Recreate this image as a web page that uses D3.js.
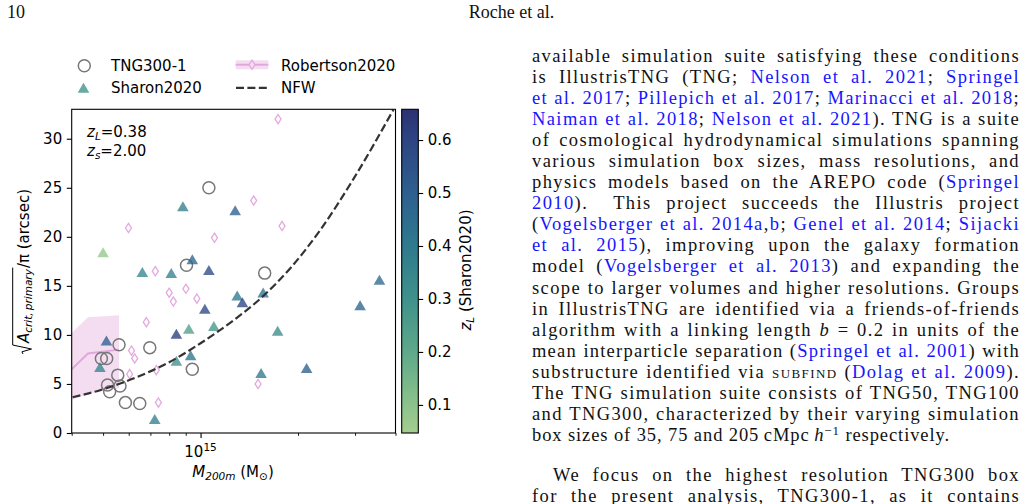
<!DOCTYPE html>
<html>
<head>
<meta charset="utf-8">
<script src="https://cdn.jsdelivr.net/npm/d3@7"></script>
<style>
  body { margin: 0; background: #fff; width: 1027px; height: 504px; overflow: hidden; position: relative; }
  svg { position: absolute; left: 0; top: 0; }
  .page { position: absolute; font-family: "Liberation Serif", "Times New Roman", serif; font-size: 18.5px; color: #111; }
  .col { left: 532px; width: 488px; line-height: 21.1px; }
  .ln { white-space: nowrap; text-align: justify; text-align-last: justify; }
  .ln.last { text-align-last: left; }
  .cite { color: #1515ff; }
  .sc { font-variant: small-caps; }
  sup { font-size: 70%; vertical-align: 0.5em; line-height: 0; }
  .probe { position: absolute; visibility: hidden; white-space: nowrap; }
</style>
</head>
<body>
<div id="chart"></div>
<script>
// ---- data ----
// TNG300-1 haloes (open circles)
var tngMass  = [1.061e15, 0.905e15, 1.578e15, 0.560e15, 0.494e15, 0.513e15, 0.697e15, 0.943e15, 0.555e15, 0.516e15, 0.564e15, 0.524e15, 0.586e15, 0.649e15];
var tngTheta = [25.0, 17.1, 16.3, 9.0, 7.6, 7.6, 8.7, 6.5, 5.9, 4.9, 4.8, 4.2, 3.1, 3.0];

// Sharon2020 clusters (triangles, coloured by z_L)
var sharonMass  = [0.500e15, 0.882e15, 1.279e15, 0.943e15, 1.061e15, 0.661e15, 0.812e15, 1.031e15, 1.298e15, 1.347e15, 1.561e15, 1.099e15, 0.920e15, 0.842e15, 0.512e15, 0.489e15, 0.842e15, 0.932e15, 0.722e15, 3.568e15, 3.110e15, 1.730e15, 1.538e15, 2.126e15];
var sharonTheta = [18.4, 23.1, 22.7, 17.7, 16.6, 16.4, 16.3, 12.65, 14.0, 13.3, 14.3, 10.9, 10.6, 10.1, 9.4, 6.7, 7.35, 7.9, 1.4, 15.6, 13.0, 10.4, 6.1, 6.6];
var sharonZ     = [0.08, 0.38, 0.50, 0.48, 0.58, 0.35, 0.37, 0.58, 0.40, 0.60, 0.42, 0.28, 0.24, 0.62, 0.50, 0.36, 0.30, 0.42, 0.38, 0.46, 0.48, 0.32, 0.40, 0.50];

// Robertson2020 (thin diamonds + median line with band)
var robMass  = [0.599e15, 1.104e15, 1.735e15, 1.459e15, 1.785e15, 0.725e15, 0.800e15, 0.824e15, 0.901e15, 0.974e15, 0.680e15, 0.612e15, 0.626e15, 0.604e15, 0.730e15, 0.741e15, 1.505e15];
var robTheta = [20.9, 19.9, 32.0, 23.7, 21.1, 16.5, 14.3, 13.4, 14.7, 13.7, 11.3, 8.4, 7.6, 6.0, 6.4, 3.1, 5.0];
var robBinMass = [0.361e15, 0.449e15, 0.560e15];
var robMedian  = [5.1, 8.1, 8.5];
var robLow     = [2.8, 4.0, 4.6];
var robHigh    = [8.8, 11.8, 12.0];

// NFW expectation (dashed)
var nfwMass  = [0.4025e15, 0.492e15, 0.623e15, 0.789e15, 1.0e15, 1.266e15, 1.53e15, 1.893e15, 2.343e15, 2.967e15, 3.941e15];
var nfwTheta = [3.64, 4.39, 5.58, 7.11, 9.15, 11.5, 13.7, 16.8, 20.7, 25.9, 32.96];

var yTicks = [0, 5, 10, 15, 20, 25, 30];
var xMinorTicks = [4e14, 5e14, 6e14, 7e14, 8e14, 9e14, 2e15, 3e15, 4e15];
var cbTicks = [0.1, 0.2, 0.3, 0.4, 0.5, 0.6];
var crestStops = [0.047, 0.1, 0.2, 0.3, 0.4, 0.5, 0.6, 0.658];
var crestColors = ["#a5cd90", "#8cc28b", "#5ea98a", "#3f918b", "#2f7a8e", "#2d608e", "#2d4583", "#2c3172"];

// page text
var paraOne = [
  'available simulation suite satisfying these conditions',
  'is IllustrisTNG (TNG; <c>Nelson et al. 2021</c>; <c>Springel</c>',
  '<c>et al. 2017</c>; <c>Pillepich et al. 2017</c>; <c>Marinacci et al. 2018</c>;',
  '<c>Naiman et al. 2018</c>; <c>Nelson et al. 2021</c>). TNG is a suite',
  'of cosmological hydrodynamical simulations spanning',
  'various simulation box sizes, mass resolutions, and',
  'physics models based on the AREPO code (<c>Springel</c>',
  '<c>2010</c>).&ensp; This project succeeds the Illustris project',
  '(<c>Vogelsberger et al. 2014a</c>,<c>b</c>; <c>Genel et al. 2014</c>; <c>Sijacki</c>',
  '<c>et al. 2015</c>), improving upon the galaxy formation',
  'model (<c>Vogelsberger et al. 2013</c>) and expanding the',
  'scope to larger volumes and higher resolutions. Groups',
  'in IllustrisTNG are identified via a friends-of-friends',
  'algorithm with a linking length <i>b</i> = 0.2 in units of the',
  'mean interparticle separation (<c>Springel et al. 2001</c>) with',
  'substructure identified via <span class="sc">subfind</span> (<c>Dolag et al. 2009</c>).',
  'The TNG simulation suite consists of TNG50, TNG100',
  'and TNG300, characterized by their varying simulation',
  'box sizes of 35, 75 and 205&#8201;cMpc&#8201;<i>h</i><sup>\u22121</sup> respectively.'
];
var paraTwo = [
  'We focus on the highest resolution TNG300 box',
  'for the present analysis, TNG300-1, as it contains'
];

// ---- layout ----
var W = 1027, H = 504;
var plot = {left: 71.7, right: 395.5, top: 109.3, bottom: 433};
var cb = {left: 401.7, right: 418.3, top: 109.3, bottom: 433};

var svg = d3.select("#chart").append("svg")
    .attr("width", W).attr("height", H)
    .attr("font-family", "DejaVu Sans");

var x = d3.scaleLog().domain([4e14, 4e15]).range([plot.left, plot.right]);
var y = d3.scaleLinear().domain([0, 33]).range([plot.bottom, plot.top]);
var zc = d3.scaleLinear().domain([0.047, 0.658]).range([cb.bottom, cb.top]);
var crest = d3.scaleLinear().domain(crestStops).range(crestColors).interpolate(d3.interpolateRgb);

svg.append("clipPath").attr("id", "clip")
  .append("rect")
    .attr("x", plot.left).attr("y", plot.top)
    .attr("width", plot.right - plot.left).attr("height", plot.bottom - plot.top);

var g = svg.append("g").attr("clip-path", "url(#clip)");

// Robertson band + median
var robIdx = d3.range(robBinMass.length);
g.append("path")
  .attr("d", d3.area()
    .x(i => x(robBinMass[i]))
    .y0(i => y(robLow[i]))
    .y1(i => y(robHigh[i]))(robIdx))
  .attr("fill", "#f4ddf1");
g.append("path")
  .attr("d", d3.line().x(i => x(robBinMass[i])).y(i => y(robMedian[i]))(robIdx))
  .attr("fill", "none").attr("stroke", "#e3a6de").attr("stroke-width", 2);

// Robertson diamonds
g.append("g").selectAll("path")
  .data(d3.range(robMass.length)).enter()
  .append("path")
    .attr("transform", i => "translate(" + x(robMass[i]) + "," + y(robTheta[i]) + ")")
    .attr("d", "M0,-4.6L3,0L0,4.6L-3,0Z")
    .attr("fill", "none").attr("stroke", "#e4a9df").attr("stroke-width", 1.3);

// TNG circles
g.append("g").selectAll("circle")
  .data(d3.range(tngMass.length)).enter()
  .append("circle")
    .attr("cx", i => x(tngMass[i]))
    .attr("cy", i => y(tngTheta[i]))
    .attr("r", 6)
    .attr("fill", "none").attr("stroke", "#777").attr("stroke-width", 1.5);

// Sharon triangles
g.append("g").selectAll("path")
  .data(d3.range(sharonMass.length)).enter()
  .append("path")
    .attr("transform", i => "translate(" + x(sharonMass[i]) + "," + y(sharonTheta[i]) + ")")
    .attr("d", "M0,-5.2L5.8,4.8L-5.8,4.8Z")
    .attr("fill", i => crest(sharonZ[i]))
    .attr("fill-opacity", 0.78);

// NFW
g.append("path")
  .attr("d", d3.line().x(i => x(nfwMass[i])).y(i => y(nfwTheta[i])).curve(d3.curveMonotoneX)(d3.range(nfwMass.length)))
  .attr("fill", "none").attr("stroke", "#333").attr("stroke-width", 2.2)
  .attr("stroke-dasharray", "8,3.4");

// frame
svg.append("rect")
  .attr("x", plot.left).attr("y", plot.top)
  .attr("width", plot.right - plot.left).attr("height", plot.bottom - plot.top)
  .attr("fill", "none").attr("stroke", "#000").attr("stroke-width", 1.1);

// y axis
var yAxis = svg.append("g")
  .attr("transform", "translate(" + plot.left + ",0)")
  .call(d3.axisLeft(y).tickValues(yTicks).tickSize(4.9).tickPadding(4.6));
yAxis.attr("font-family", "DejaVu Sans").attr("font-size", 15);
yAxis.select(".domain").remove();
yAxis.selectAll("line").attr("stroke", "#000").attr("stroke-width", 1.1);
yAxis.selectAll("text").attr("fill", "#000");

// x axis: minor ticks, one labelled major
var xMinor = svg.append("g")
  .attr("transform", "translate(0," + plot.bottom + ")")
  .call(d3.axisBottom(x).tickValues(xMinorTicks).tickSize(2.8).tickFormat(""));
xMinor.select(".domain").remove();
xMinor.selectAll("line").attr("stroke", "#000").attr("stroke-width", 0.9);
var xMajor = svg.append("g")
  .attr("transform", "translate(0," + plot.bottom + ")")
  .call(d3.axisBottom(x).tickValues([1e15]).tickSize(4.9).tickFormat(""));
xMajor.select(".domain").remove();
xMajor.selectAll("line").attr("stroke", "#000").attr("stroke-width", 1.1);

var xt = svg.append("text").attr("x", x(1e15)).attr("y", 456.5)
  .attr("text-anchor", "middle").attr("font-size", 15);
xt.append("tspan").text("10");
xt.append("tspan").attr("font-size", 10.5).attr("dy", -6).text("15");

// x label
var xl = svg.append("text").attr("x", 233).attr("y", 477).attr("text-anchor", "middle").attr("font-size", 15);
xl.append("tspan").attr("font-style", "italic").text("M");
xl.append("tspan").attr("font-style", "italic").attr("font-size", 10.5).attr("dy", 3).text("200m");
xl.append("tspan").attr("dy", -3).text(" (M");
xl.append("tspan").attr("font-size", 10.5).attr("dy", 3).text("\u2299");
xl.append("tspan").attr("dy", -3).text(")");

// y label with hand-drawn radical
var yl = svg.append("g").attr("transform", "translate(28.5,277) rotate(-90)");
var ylt = yl.append("text").attr("text-anchor", "middle").attr("font-size", 15);
ylt.append("tspan").attr("font-style", "italic").attr("dx", 11).text("A");
ylt.append("tspan").attr("font-style", "italic").attr("font-size", 10.5).attr("dy", 3).text("crit,\u2009primary");
ylt.append("tspan").attr("dy", -3).attr("dx", 1).text("/\u03c0 (arcsec)");
var tn = ylt.node();
var aStart = tn.getStartPositionOfChar(0).x;
var subEnd = tn.getEndPositionOfChar(13).x;
var rx = aStart - 11;
yl.append("path")
  .attr("d", "M" + rx + ",-5.5L" + (rx + 2.2) + ",-6.6L" + (rx + 5) + ",3L" + (rx + 9) + ",-15.8L" + (subEnd + 1.5) + ",-15.8")
  .attr("fill", "none").attr("stroke", "#000").attr("stroke-width", 1);

// annotation
var ann = svg.append("g").attr("font-size", 15);
var a1 = ann.append("text").attr("x", 87).attr("y", 137.3);
a1.append("tspan").attr("font-style", "italic").text("z");
a1.append("tspan").attr("font-style", "italic").attr("font-size", 10.5).attr("dy", 3).text("L");
a1.append("tspan").attr("dy", -3).text("=0.38");
var a2 = ann.append("text").attr("x", 87).attr("y", 155.7);
a2.append("tspan").attr("font-style", "italic").text("z");
a2.append("tspan").attr("font-style", "italic").attr("font-size", 10.5).attr("dy", 3).text("s");
a2.append("tspan").attr("dy", -3).text("=2.00");

// colorbar
var grad = svg.append("defs").append("linearGradient").attr("id", "crest")
  .attr("x1", 0).attr("y1", 1).attr("x2", 0).attr("y2", 0);
grad.selectAll("stop").data(crestStops).enter().append("stop")
  .attr("offset", d => (d - crestStops[0]) / (crestStops[crestStops.length - 1] - crestStops[0]))
  .attr("stop-color", d => crest(d));
svg.append("rect")
  .attr("x", cb.left).attr("y", cb.top)
  .attr("width", cb.right - cb.left).attr("height", cb.bottom - cb.top)
  .attr("fill", "url(#crest)").attr("stroke", "#000").attr("stroke-width", 1.1);
var cAxis = svg.append("g")
  .attr("transform", "translate(" + cb.right + ",0)")
  .call(d3.axisRight(zc).tickValues(cbTicks).tickSize(4.9).tickPadding(4.6).tickFormat(d3.format(".1f")));
cAxis.attr("font-family", "DejaVu Sans").attr("font-size", 15);
cAxis.select(".domain").remove();
cAxis.selectAll("line").attr("stroke", "#000").attr("stroke-width", 1.1);
cAxis.selectAll("text").attr("fill", "#000");

var cl = svg.append("text").attr("transform", "translate(471,270) rotate(-90)")
  .attr("text-anchor", "middle").attr("font-size", 15);
cl.append("tspan").attr("font-style", "italic").text("z");
cl.append("tspan").attr("font-style", "italic").attr("font-size", 10.5).attr("dy", 3).text("L");
cl.append("tspan").attr("dy", -3).text(" (Sharon2020)");

// legend
var leg = svg.append("g").attr("font-size", 15);
leg.append("circle").attr("cx", 84.3).attr("cy", 65.7).attr("r", 6)
  .attr("fill", "none").attr("stroke", "#777").attr("stroke-width", 1.5);
leg.append("text").attr("x", 111).attr("y", 71.2).text("TNG300-1");
leg.append("path").attr("transform", "translate(83.5,88)").attr("d", "M0,-5.2L5.8,4.8L-5.8,4.8Z")
  .attr("fill", crest(0.3)).attr("fill-opacity", 0.78);
leg.append("text").attr("x", 111).attr("y", 92.8).text("Sharon2020");
leg.append("rect").attr("x", 235.7).attr("y", 60.3).attr("width", 32.6).attr("height", 9)
  .attr("fill", "#f4ddf1");
leg.append("line").attr("x1", 235.7).attr("x2", 268.3).attr("y1", 64.8).attr("y2", 64.8)
  .attr("stroke", "#e3a6de").attr("stroke-width", 2);
leg.append("path").attr("transform", "translate(252,64.8)").attr("d", "M0,-4.6L3,0L0,4.6L-3,0Z")
  .attr("fill", "#f4ddf1").attr("stroke", "#e4a9df").attr("stroke-width", 1.3);
leg.append("text").attr("x", 281).attr("y", 71.2).text("Robertson2020");
leg.append("line").attr("x1", 236).attr("x2", 268).attr("y1", 87.8).attr("y2", 87.8)
  .attr("stroke", "#333").attr("stroke-width", 2.2).attr("stroke-dasharray", "8,3.4");
leg.append("text").attr("x", 281).attr("y", 92.8).text("NFW");

// ---- page furniture ----
var body = d3.select("body");
body.append("div").attr("class", "page").style("left", "7px").style("top", "2px").style("font-size", "18px").text("10");
body.append("div").attr("class", "page").style("left", "0px").style("width", "1023px")
  .style("top", "2px").style("font-size", "18px").style("text-align", "center").text("Roche et al.");

function cites(s) { return s.replace(/<c>/g, '<span class="cite">').replace(/<\/c>/g, '</span>'); }

var col = body.append("div").attr("class", "page col").style("top", "45.5px");
col.selectAll("div.p1").data(paraOne).enter().append("div")
  .attr("class", (d, i) => i === paraOne.length - 1 ? "ln last p1" : "ln p1")
  .html(d => cites(d));
col.selectAll("div.p2").data(paraTwo).enter().append("div")
  .attr("class", "ln p2")
  .style("margin-top", (d, i) => i === 0 ? "18.4px" : null)
  .style("text-indent", (d, i) => i === 0 ? "21px" : null)
  .html(d => d);

// widen letters (Computer Modern is wider than Times) without overflowing the column
var probe = body.append("span").attr("class", "page probe");
col.selectAll("div.ln").each(function (d, i) {
  var el = d3.select(this);
  var indent = parseFloat(this.style.textIndent) || 0;
  probe.html(this.innerHTML);
  var w = probe.node().getBoundingClientRect().width + indent;
  var n = this.textContent.length;
  var cap = el.classed("last") ? 0.9 : 1.4;
  var ls = Math.max(0, Math.min(cap, (484 - w) / n));
  el.style("letter-spacing", ls + "px");
});
probe.remove();
</script>
</body>
</html>
